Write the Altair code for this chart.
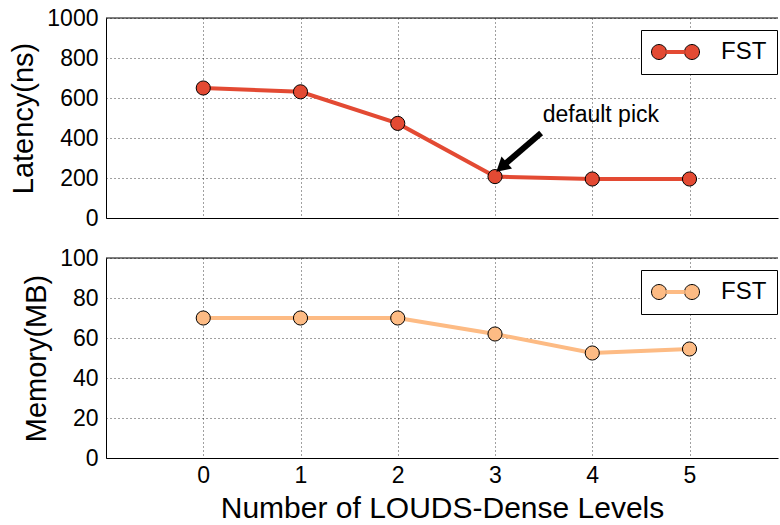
import math
import altair as alt
import pandas as pd

# Values for each number of LOUDS-Dense levels
levels = [0, 1, 2, 3, 4, 5]
latency_ns = [650, 631, 473, 207, 195, 195]
memory_mb = [70, 70, 70, 62, 52.5, 54.5]
series = ["FST"] * len(levels)
link = ["FST link"] * len(levels)

latency_ticks = [0, 200, 400, 600, 800, 1000]
memory_ticks = [0, 20, 40, 60, 80, 100]
x_ticks = [0, 1, 2, 3, 4, 5]

# "default pick" callout: arrow tail, arrow head and label anchor (data units)
arrow_tail = [3.474, 425]
arrow_head = [3.085, 262]
note_pos = [3.49, 515]
note_text = "default pick"

RED = "#E34A33"
ORANGE = "#FDBB84"
FONT = "Liberation Sans"
W, H = 672, 200

lat_df = pd.DataFrame({"level": levels, "value": latency_ns, "series": series, "link": link})
mem_df = pd.DataFrame({"level": levels, "value": memory_mb, "series": series, "link": link})

x_scale = alt.Scale(domain=[-1, 5.91], nice=False, zero=False)


def ring(cx, r=1.0, n=28):
    pts = [(cx + r * math.cos(2 * math.pi * k / n), r * math.sin(2 * math.pi * k / n))
           for k in range(n)]
    return "M" + "L".join(f"{px:.3f},{py:.3f}" for px, py in pts) + "Z"


# Legend glyphs: two outlined circles, plus the connecting line in a second legend
CIRCLES = ring(-2.2) + ring(2.2)
LINK = "M-1.25,0L1.25,0"


def legend_common():
    return dict(orient="none", legendX=535, legendY=12, title=None,
                labelFont=FONT, labelFontSize=24, labelColor="black",
                symbolSize=225, padding=10, symbolOffset=12.5, labelOffset=33.5)


def x_axis(show_labels):
    if show_labels:
        return alt.Axis(values=x_ticks, title="Number of LOUDS-Dense Levels",
                        labelPadding=6, titlePadding=6, labelFlush=False,
                        titleFontSize=30)
    return alt.Axis(values=x_ticks, labels=False, title=None)


def panel(df, color, ticks, title, show_x, note=False):
    x = alt.X("level:Q", scale=x_scale, axis=x_axis(show_x))
    y = alt.Y("value:Q", scale=alt.Scale(domain=[ticks[0], ticks[-1]], nice=False),
              axis=alt.Axis(values=ticks, title=title, format="d", titleFontSize=29))
    base = alt.Chart(df)
    line = base.mark_line(strokeWidth=4).encode(
        x=x, y=y,
        stroke=alt.Stroke("link:N", scale=alt.Scale(range=[color]),
                          legend=alt.Legend(symbolType=LINK, symbolStrokeWidth=4,
                                            labelExpr="''", zindex=2,
                                            **legend_common())),
    )
    dots = base.mark_circle(size=200, stroke="black", strokeWidth=1, opacity=1).encode(
        x=x, y=y,
        fill=alt.Fill("series:N", scale=alt.Scale(range=[color]),
                      legend=alt.Legend(symbolType=CIRCLES, symbolStrokeColor="black",
                                        symbolStrokeWidth=1, symbolFillColor=color,
                                        strokeColor="black", fillColor="white",
                                        cornerRadius=0, zindex=1,
                                        **legend_common())),
    )
    frame_top = alt.Chart(pd.DataFrame({"k": [0]})).mark_rule(
        color="black", strokeWidth=1).encode(
        x=alt.value(0), x2=alt.value(W), y=alt.value(0))
    layers = [line, dots, frame_top]
    if note:
        arrow_df = pd.DataFrame({"level": [arrow_tail[0]], "value": [arrow_tail[1]],
                                 "level2": [arrow_head[0]], "value2": [arrow_head[1]]})
        shaft = alt.Chart(arrow_df).mark_rule(color="black", strokeWidth=6).encode(
            x=x, y=y, x2="level2:Q", y2="value2:Q")
        head_df = pd.DataFrame({"level": [arrow_head[0]], "value": [arrow_head[1]]})
        head = alt.Chart(head_df).mark_point(shape="triangle", filled=True,
                                             color="black", size=256, angle=229,
                                             opacity=1).encode(x=x, y=y)
        note_df = pd.DataFrame({"level": [note_pos[0]], "value": [note_pos[1]],
                                "label": [note_text]})
        label = alt.Chart(note_df).mark_text(align="left", baseline="middle",
                                             font=FONT, fontSize=23,
                                             color="black").encode(
            x=x, y=y, text="label:N")
        layers += [shaft, head, label]
    return alt.layer(*layers).properties(width=W, height=H)


top = panel(lat_df, RED, latency_ticks, "Latency(ns)", False, note=True)
bottom = panel(mem_df, ORANGE, memory_ticks, "Memory(MB)", True)

chart = alt.vconcat(top, bottom, spacing=17).resolve_scale(
    fill="independent", stroke="independent"
).properties(
    padding={"left": 9, "top": 7, "right": 0, "bottom": 2},
    background="white",
).configure_view(
    stroke=None
).configure_axis(
    labelFont=FONT, titleFont=FONT, labelFontSize=23,
    titleFontWeight="normal", labelColor="black", titleColor="black",
    domainColor="black", domainWidth=1, ticks=False, labelPadding=8,
    titlePadding=8, grid=True, gridColor="black", gridDash=[1, 3],
    gridOpacity=0.75, gridWidth=1,
)

chart.save("out.html", embed_options={"renderer": "svg", "actions": False})
